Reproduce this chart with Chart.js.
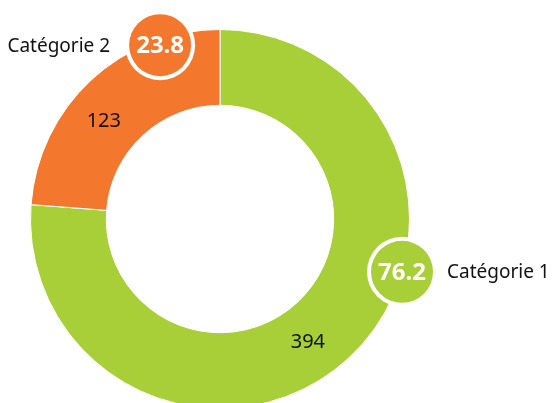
<!DOCTYPE html>
<html>
<head>
<meta charset="utf-8">
<script src="https://cdn.jsdelivr.net/npm/chart.js@4"></script>
<style>
  html, body { margin: 0; padding: 0; overflow: hidden; background: #fff; }
  #wrap { width: 552px; height: 440px; position: relative; }
</style>
</head>
<body>
<div id="wrap"><canvas id="myChart"></canvas></div>
<script>
const categories = ['Catégorie 1', 'Catégorie 2'];
const values = [394, 123];
const colors = ['#a8cf38', '#f4772e'];

const total = values.reduce((a, b) => a + b, 0);
const percents = values.map(v => (v / total * 100).toFixed(1));

// draws the value inside the ring, the round badge with the percent and the category name
const sliceLabels = {
    id: 'sliceLabels',
    afterDatasetsDraw(chart, args, opts) {
        const ctx = chart.ctx;
        const meta = chart.getDatasetMeta(0);
        ctx.save();
        meta.data.forEach((arc, i) => {
            const p = arc.getProps(['x', 'y', 'startAngle', 'endAngle', 'innerRadius', 'outerRadius'], true);
            const span = p.endAngle - p.startAngle;

            // value
            let a = p.startAngle + span * opts.valuePos[i];
            let r = (p.innerRadius + p.outerRadius) / 2;
            ctx.font = '20px "Noto Sans"';
            ctx.fillStyle = '#111';
            ctx.textAlign = 'center';
            ctx.textBaseline = 'middle';
            ctx.fillText(String(values[i]), p.x + Math.cos(a) * r, p.y + Math.sin(a) * r);

            // badge
            a = p.startAngle + span * opts.badgePos[i];
            r = p.outerRadius * opts.badgeR[i];
            const bx = p.x + Math.cos(a) * r;
            const by = p.y + Math.sin(a) * r;
            ctx.beginPath();
            ctx.arc(bx, by, 35, 0, Math.PI * 2);
            ctx.fillStyle = '#fff';
            ctx.fill();
            ctx.beginPath();
            ctx.arc(bx, by, 31, 0, Math.PI * 2);
            ctx.fillStyle = colors[i];
            ctx.fill();
            ctx.font = 'bold 24px "Noto Sans"';
            ctx.fillStyle = '#fff';
            ctx.fillText(percents[i], bx, by + 1);

            // category name
            ctx.font = '19px "Noto Sans"';
            ctx.fillStyle = '#111';
            if (bx > p.x) {
                ctx.textAlign = 'left';
                ctx.fillText(categories[i], bx + 45, by + 1);
            } else {
                ctx.textAlign = 'right';
                ctx.fillText(categories[i], bx - 50, by + 1);
            }
        });
        ctx.restore();
    }
};

const ctx = document.getElementById('myChart').getContext('2d');

const myChart = new Chart(ctx, {
    type: 'doughnut',
    data: {
        labels: categories,
        datasets: [{
            data: values,
            backgroundColor: colors,
            borderColor: '#fff',
            borderWidth: 1,
            hoverOffset: 0
        }]
    },
    options: {
        responsive: true,
        maintainAspectRatio: false,
        animation: false,
        cutout: '60%',
        layout: { padding: { left: 30, right: 142, top: 29, bottom: 31 } },
        events: [],
        plugins: {
            legend: { display: false },
            tooltip: { enabled: false },
            sliceLabels: {
                valuePos: [0.527, 0.416],
                badgePos: [0.387, 0.778],
                badgeR: [1.0, 0.97]
            }
        }
    },
    plugins: [sliceLabels]
});
</script>
</body>
</html>
